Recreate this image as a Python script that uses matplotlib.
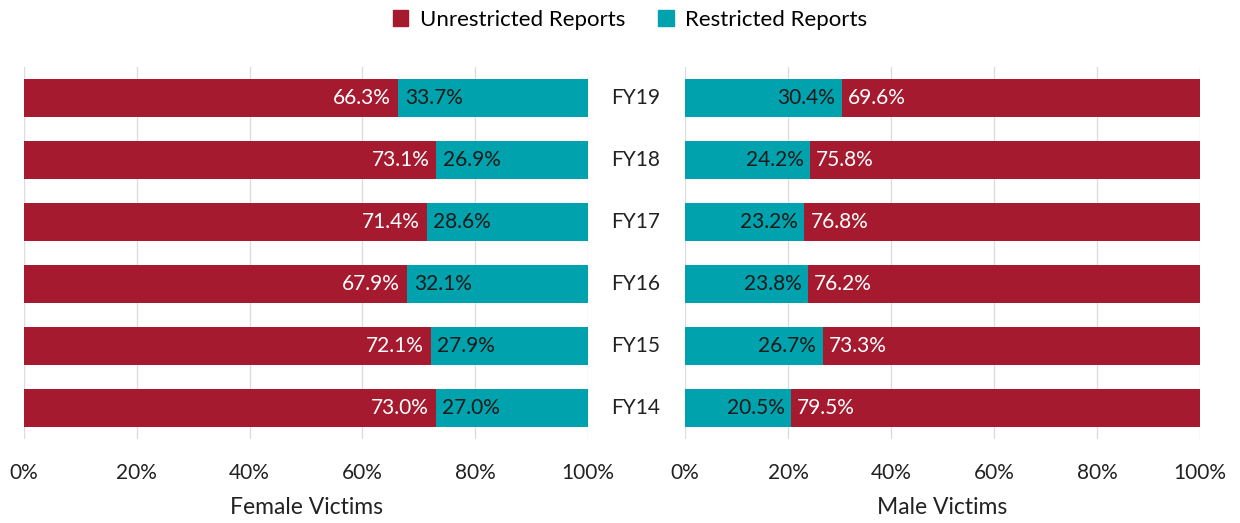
import matplotlib.pyplot as plt
import matplotlib.transforms as mtransforms
from matplotlib.patches import Patch

years = ["FY19", "FY18", "FY17", "FY16", "FY15", "FY14"]
female_unrestricted = [66.3, 73.1, 71.4, 67.9, 72.1, 73.0]
female_restricted = [33.7, 26.9, 28.6, 32.1, 27.9, 27.0]
male_restricted = [30.4, 24.2, 23.2, 23.8, 26.7, 20.5]
male_unrestricted = [69.6, 75.8, 76.8, 76.2, 73.3, 79.5]

RED = "#A51A2F"
TEAL = "#00A3AD"
plt.rcParams['font.family'] = ['Lato', 'DejaVu Sans']

fig = plt.figure(figsize=(12.4, 5.23), dpi=100)
ax1 = fig.add_axes([24 / 1240, 1 - 439 / 523, 564 / 1240, 372 / 523])
ax2 = fig.add_axes([685 / 1240, 1 - 439 / 523, 515 / 1240, 372 / 523])

ypos = list(range(len(years)))[::-1]


def draw(ax, first, second, c1, c2, t1, t2, xlabel):
    ax.barh(ypos, first, height=0.6, color=c1, zorder=2)
    ax.barh(ypos, second, left=first, height=0.6, color=c2, zorder=2)
    for y, a in zip(ypos, first):
        ax.text(a - 1.2, y, f"{a:.1f}%", ha="right", va="center", color=t1, fontsize=15, zorder=3)
        ax.text(a + 1.2, y, f"{100 - a:.1f}%", ha="left", va="center", color=t2, fontsize=15, zorder=3)
    ax.set_xlim(0, 100)
    ax.set_ylim(-0.5, 5.5)
    ax.set_xticks([0, 20, 40, 60, 80, 100])
    ax.set_xticklabels(["0%", "20%", "40%", "60%", "80%", "100%"], fontsize=15, color="#222222")
    ax.tick_params(axis="x", length=0, pad=17)
    ax.set_yticks([])
    ax.grid(axis="x", color="#DDDDDD", linewidth=1, zorder=0)
    for s in ax.spines.values():
        s.set_visible(False)
    ax.set_xlabel(xlabel, fontsize=16.5, color="#222222", labelpad=10)


draw(ax1, female_unrestricted, female_restricted, RED, TEAL, "white", "#1a1a1a", "Female Victims")
draw(ax2, male_restricted, male_unrestricted, TEAL, RED, "#1a1a1a", "white", "Male Victims")

trans = mtransforms.blended_transform_factory(fig.transFigure, ax1.transData)
for y, lab in zip(ypos, years):
    fig.text(636 / 1240, y, lab, transform=trans, ha="center", va="center", fontsize=15, color="#222222")

handles = [Patch(color=RED, label="Unrestricted Reports"), Patch(color=TEAL, label="Restricted Reports")]
fig.legend(handles=handles, loc="center", bbox_to_anchor=(630 / 1240, 1 - 20 / 523), ncol=2, frameon=False,
           fontsize=16, handlelength=0.7, handleheight=0.7, handletextpad=0.5, columnspacing=1.5)

fig.savefig("out.png", dpi=100)
